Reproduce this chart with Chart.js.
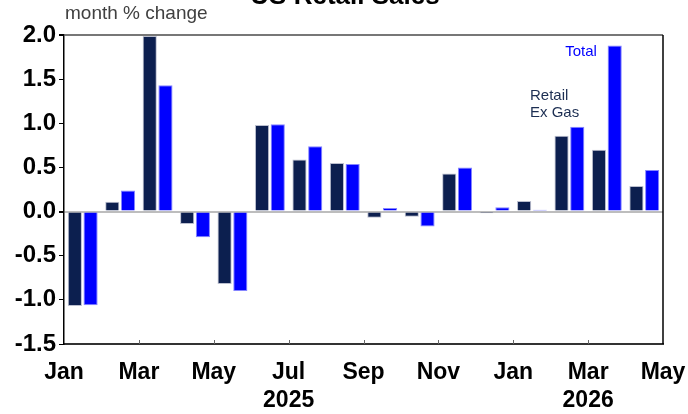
<!DOCTYPE html>
<html>
<head>
<meta charset="utf-8">
<script src="https://cdn.jsdelivr.net/npm/chart.js@4.4.1/dist/chart.umd.min.js"></script>
<style>
  body { margin: 0; background: #fff; }
  #wrap { position: relative; width: 688px; height: 414px; }
</style>
</head>
<body>
<div id="wrap"><canvas id="myChart"></canvas></div>
<script>
// Months of the bars, Jan 2025 to Apr 2026
const months = ['Jan 2025', 'Feb 2025', 'Mar 2025', 'Apr 2025', 'May 2025', 'Jun 2025',
    'Jul 2025', 'Aug 2025', 'Sep 2025', 'Oct 2025', 'Nov 2025', 'Dec 2025',
    'Jan 2026', 'Feb 2026', 'Mar 2026', 'Apr 2026'];

// Retail ex gas, month % change
const retailExGas = [-1.07, 0.11, 1.99, -0.14, -0.82, 0.98, 0.59, 0.55,
    -0.07, -0.06, 0.43, -0.02, 0.12, 0.86, 0.70, 0.29];

// Total retail sales, month % change
const totalSales = [-1.06, 0.24, 1.43, -0.29, -0.90, 0.99, 0.74, 0.54,
    0.04, -0.17, 0.50, 0.05, 0.02, 0.96, 1.88, 0.47];

// Labels on the month boundaries (17 of them, Jan 2025 .. May 2026)
const tickLabels = ['Jan', '', 'Mar', '', 'May', '', ['Jul', '2025'], '', 'Sep', '',
    'Nov', '', 'Jan', '', ['Mar', '2026'], '', 'May'];

const yTicks = { min: -1.5, max: 2.0, step: 0.5 };

const fontFamily = "'Liberation Sans', Arial, sans-serif";

// Draws the title, notes, the right frame line and the small inward ticks
const extras = {
    id: 'extras',
    afterDraw(chart) {
        const ctx = chart.ctx;
        const area = chart.chartArea;
        const x = chart.scales.x;
        const y = chart.scales.y;
        const x2 = chart.scales.x2;
        ctx.save();

        // right frame line
        ctx.strokeStyle = '#000';
        ctx.lineWidth = 1.5;
        ctx.beginPath();
        ctx.moveTo(area.right, area.top);
        ctx.lineTo(area.right, area.bottom);
        ctx.stroke();

        // small ticks pointing up from the bottom axis
        ctx.strokeStyle = '#666';
        ctx.lineWidth = 1;
        tickLabels.forEach((lab, i) => {
            if (lab === '' || i === 0 || i === tickLabels.length - 1) return;
            const px = Math.round(x2.getPixelForTick(i)) + 0.5;
            ctx.beginPath();
            ctx.moveTo(px, area.bottom);
            ctx.lineTo(px, area.bottom - 4);
            ctx.stroke();
        });

        // title, mostly cut off at the top
        ctx.fillStyle = '#000';
        ctx.font = 'bold 26px ' + fontFamily;
        ctx.textAlign = 'center';
        ctx.textBaseline = 'alphabetic';
        ctx.fillText('US Retail Sales', 345, 4);

        // unit note
        ctx.fillStyle = '#404040';
        ctx.font = '19px ' + fontFamily;
        ctx.textAlign = 'left';
        ctx.fillText('month % change', area.left + 1, 19);

        // series notes
        ctx.font = '15px ' + fontFamily;
        ctx.fillStyle = '#0000ff';
        ctx.textAlign = 'right';
        ctx.fillText('Total', x.getPixelForValue(14) - 10, y.getPixelForValue(1.76));
        ctx.fillStyle = '#1c2e52';
        ctx.textAlign = 'left';
        ctx.fillText('Retail', x.getPixelForValue(12) - 2, y.getPixelForValue(1.26));
        ctx.fillText('Ex Gas', x.getPixelForValue(12) - 2, y.getPixelForValue(1.07));

        ctx.restore();
    }
};

new Chart(document.getElementById('myChart'), {
    type: 'bar',
    data: {
        labels: months,
        datasets: [{
            label: 'Retail Ex Gas',
            data: retailExGas,
            backgroundColor: '#0c1f4f',
            borderColor: 'rgba(170,175,195,0.8)',
            borderWidth: 1,
            xAxisID: 'x'
        }, {
            label: 'Total',
            data: totalSales,
            backgroundColor: '#0000ff',
            borderColor: 'rgba(120,120,255,0.9)',
            borderWidth: 1,
            xAxisID: 'x'
        }]
    },
    options: {
        responsive: true,
        maintainAspectRatio: false,
        animation: false,
        devicePixelRatio: 1,
        categoryPercentage: 0.84,
        barPercentage: 0.9,
        layout: { padding: { top: 35, right: 25, left: 0, bottom: 0 } },
        plugins: {
            legend: { display: false },
            tooltip: { enabled: false }
        },
        scales: {
            x: {
                display: false,
                offset: true
            },
            x2: {
                type: 'category',
                labels: tickLabels,
                position: 'bottom',
                offset: false,
                grid: { display: false, drawTicks: false },
                border: { display: true, color: '#333', width: 2 },
                ticks: {
                    autoSkip: false,
                    maxRotation: 0,
                    padding: 15,
                    color: '#000',
                    font: { family: fontFamily, size: 23, weight: 'bold', lineHeight: 1.2 }
                },
                afterFit(scale) {
                    scale.height = 70;
                    scale.paddingLeft = 0;
                    scale.paddingRight = 0;
                }
            },
            y: {
                min: yTicks.min,
                max: yTicks.max,
                border: { display: true, color: '#000', width: 1.5 },
                grid: {
                    drawTicks: true,
                    tickLength: 5,
                    tickColor: '#000',
                    color: (c) => {
                        if (c.tick && c.tick.value === 0) return '#bdbdbd';
                        if (c.tick && c.tick.value === yTicks.max) return '#777';
                        return 'rgba(0,0,0,0)';
                    },
                    lineWidth: (c) => (c.tick && (c.tick.value === 0 || c.tick.value === yTicks.max)) ? 2 : 1
                },
                ticks: {
                    stepSize: yTicks.step,
                    padding: 3,
                    color: '#000',
                    font: { family: fontFamily, size: 24, weight: 'bold' },
                    callback: (v) => v.toFixed(1)
                },
                afterFit(scale) {
                    scale.width = 64;
                    scale.paddingTop = 0;
                    scale.paddingBottom = 0;
                }
            }
        }
    },
    plugins: [extras]
});
</script>
</body>
</html>
